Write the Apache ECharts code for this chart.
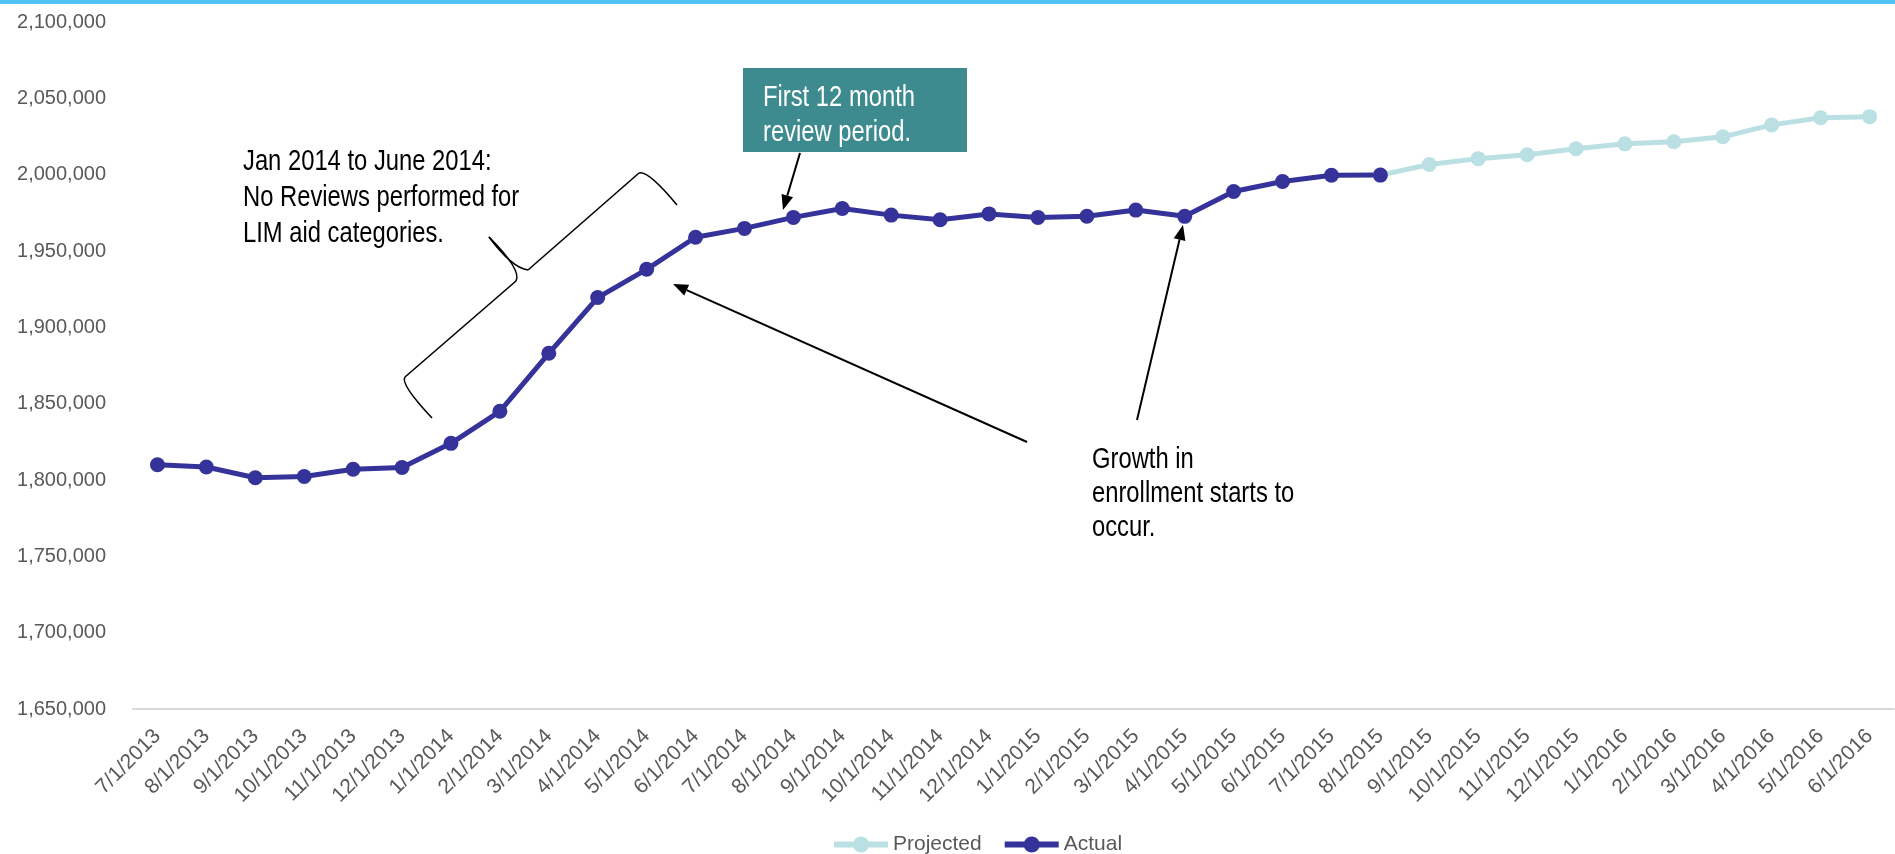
<!DOCTYPE html>
<html>
<head>
<meta charset="utf-8">
<title>Enrollment</title>
<script src="https://cdn.jsdelivr.net/npm/echarts@6/dist/echarts.min.js"></script>
<style>
  html, body { margin: 0; padding: 0; background: #fff; }
  #chart { width: 1895px; height: 854px; }
</style>
</head>
<body>
<div id="chart"></div>
<script>
// month labels, 7/1/2013 .. 6/1/2016
const months = [
  "7/1/2013", "8/1/2013", "9/1/2013", "10/1/2013", "11/1/2013", "12/1/2013",
  "1/1/2014", "2/1/2014", "3/1/2014", "4/1/2014", "5/1/2014", "6/1/2014",
  "7/1/2014", "8/1/2014", "9/1/2014", "10/1/2014", "11/1/2014", "12/1/2014",
  "1/1/2015", "2/1/2015", "3/1/2015", "4/1/2015", "5/1/2015", "6/1/2015",
  "7/1/2015", "8/1/2015", "9/1/2015", "10/1/2015", "11/1/2015", "12/1/2015",
  "1/1/2016", "2/1/2016", "3/1/2016", "4/1/2016", "5/1/2016", "6/1/2016"
];

// actual enrollment, 7/1/2013 .. 8/1/2015
const actualValues = [
  1810000, 1808500, 1801500, 1802300, 1807000, 1808200,
  1824000, 1845000, 1883000, 1919500, 1938000, 1959000,
  1964800, 1972000, 1977800, 1973500, 1970500, 1974300,
  1972000, 1972800, 1976800, 1972700, 1989000, 1995500,
  1999600, 1999700
];

// projected enrollment, 8/1/2015 .. 6/1/2016
const projectedStart = "8/1/2015";
const projectedValues = [
  1999700, 2006700, 2010500, 2013000, 2017000, 2020200,
  2021600, 2024800, 2032600, 2037300, 2038000
];

const yMin = 1650000;
const yMax = 2100000;
const yStep = 50000;

const FONT = "'Liberation Sans', Arial, sans-serif";
const GREY = "#595959";
const NARROW = 0.82; // squeeze to mimic a narrow face
const ACTUAL_COLOR = "#35339a";
const PROJ_COLOR = "#bae0e3";

const projIdx = months.indexOf(projectedStart);
const projectedData = months.map((m, i) =>
  i < projIdx ? null : projectedValues[i - projIdx]
);

function arrow(x1, y1, x2, y2) {
  const len = 15, half = 6;
  const dx = x2 - x1, dy = y2 - y1;
  const d = Math.sqrt(dx * dx + dy * dy);
  const ux = dx / d, uy = dy / d;
  const bx = x2 - ux * len, by = y2 - uy * len;
  return [
    {
      type: "line",
      shape: { x1: x1, y1: y1, x2: bx, y2: by },
      style: { stroke: "#000", lineWidth: 2 },
      z: 100
    },
    {
      type: "polygon",
      shape: { points: [[x2, y2], [bx - uy * half, by + ux * half], [bx + uy * half, by - ux * half]] },
      style: { fill: "#000" },
      z: 100
    }
  ];
}

function note(x, y, text, color, lh) {
  return {
    type: "text",
    x: x,
    y: y,
    scaleX: NARROW,
    style: {
      text: text,
      fill: color,
      fontSize: 29,
      fontFamily: FONT,
      lineHeight: lh
    },
    z: 95
  };
}

const bracketStyle = { stroke: "#000", lineWidth: 1.6, fill: null };
const bracket = [
  { type: "bezierCurve", shape: { x1: 432, y1: 418, cpx1: 400, cpy1: 384, x2: 405, y2: 377 }, style: bracketStyle },
  { type: "line", shape: { x1: 405, y1: 377, x2: 516, y2: 281 }, style: bracketStyle },
  { type: "bezierCurve", shape: { x1: 516, y1: 281, cpx1: 522, cpy1: 270, x2: 489, y2: 237 }, style: bracketStyle },
  { type: "bezierCurve", shape: { x1: 489, y1: 237, cpx1: 512, cpy1: 268, x2: 528, y2: 270 }, style: bracketStyle },
  { type: "line", shape: { x1: 528, y1: 270, x2: 639, y2: 173 }, style: bracketStyle },
  { type: "bezierCurve", shape: { x1: 639, y1: 173, cpx1: 648, cpy1: 170, x2: 677, y2: 205 }, style: bracketStyle }
];

const chart = echarts.init(document.getElementById("chart"));

const option = {
  backgroundColor: "#fff",
  animation: false,
  textStyle: { fontFamily: FONT },
  grid: {
    left: 133,
    right: 1,
    top: 22,
    bottom: 145,
    outerBoundsMode: "none"
  },
  legend: {
    data: [
      { name: "Projected", lineStyle: { width: 6, color: PROJ_COLOR }, itemStyle: { color: PROJ_COLOR } },
      { name: "Actual", lineStyle: { width: 6, color: ACTUAL_COLOR }, itemStyle: { color: ACTUAL_COLOR } }
    ],
    left: 826,
    top: 829,
    itemWidth: 54,
    itemHeight: 20,
    itemGap: 20,
    textStyle: { color: GREY, fontSize: 21, fontFamily: FONT }
  },
  xAxis: {
    type: "category",
    data: months,
    boundaryGap: true,
    axisLine: { lineStyle: { color: "#d9d9d9", width: 2 } },
    axisTick: { length: 7, lineStyle: { color: "#d9d9d9", width: 2 } },
    axisLabel: {
      interval: 0,
      rotate: 45,
      margin: 24,
      color: GREY,
      fontSize: 21,
      fontFamily: FONT
    }
  },
  yAxis: {
    type: "value",
    min: yMin,
    max: yMax,
    interval: yStep,
    axisLine: { show: false },
    axisTick: { show: false },
    splitLine: { show: false },
    axisLabel: {
      margin: 27,
      color: GREY,
      fontSize: 20,
      fontFamily: FONT,
      formatter: (v) => v.toLocaleString("en-US")
    }
  },
  series: [
    {
      name: "Projected",
      type: "line",
      data: projectedData,
      symbol: "circle",
      symbolSize: 15,
      color: PROJ_COLOR,
      lineStyle: { width: 5, color: PROJ_COLOR },
      itemStyle: { color: PROJ_COLOR }
    },
    {
      name: "Actual",
      type: "line",
      data: actualValues,
      symbol: "circle",
      symbolSize: 15,
      color: ACTUAL_COLOR,
      lineStyle: { width: 5, color: ACTUAL_COLOR },
      itemStyle: { color: ACTUAL_COLOR }
    }
  ],
  graphic: [
    // top accent bar
    {
      type: "rect",
      shape: { x: 0, y: 0, width: 1895, height: 4 },
      style: { fill: "#4fc3f3" }
    },
    // note box
    {
      type: "rect",
      shape: { x: 743, y: 68, width: 224, height: 84 },
      style: { fill: "#3d8b8f" },
      z: 90
    },
    note(763, 80, "First 12 month\nreview period.", "#fff", 35),
    note(243, 144, "Jan 2014 to June 2014:\nNo Reviews performed for\nLIM aid categories.", "#000", 36),
    note(1092, 443, "Growth in\nenrollment starts to\noccur.", "#000", 34)
  ]
    .concat(bracket)
    .concat(arrow(800, 153, 783, 210))
    .concat(arrow(1027, 442, 673, 284))
    .concat(arrow(1137, 420, 1183, 225))
};

chart.setOption(option);
window.addEventListener("resize", () => chart.resize());
</script>
</body>
</html>
